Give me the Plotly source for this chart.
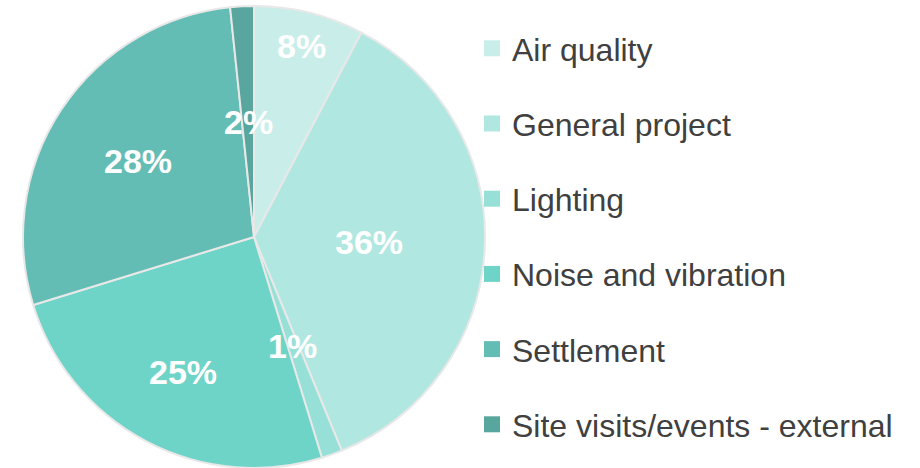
import math
import plotly.graph_objects as go

categories = ["Air quality", "General project", "Lighting", "Noise and vibration",
              "Settlement", "Site visits/events - external"]
values = [7.7, 36.1, 1.45, 25.0, 28.1, 1.65]
colors = ["#C9EEE9", "#B0E8E1", "#96E0D7", "#6FD4C8", "#64BDB4", "#58A69E"]
label_r = [0.85, 0.5, 0.5, 0.66, 0.6, 0.5]  # radial placement of value labels (style)

W, H = 920, 468
M_T, M_B, M_L, M_R = 6, 0, 0, 0
DOM_X = [0, 508 / W]
plot_w, plot_h = W - M_L - M_R, H - M_T - M_B
radius = min((DOM_X[1] - DOM_X[0]) * plot_w, plot_h) / 2
cx, cy = (DOM_X[0] + DOM_X[1]) / 2, 0.5

fig = go.Figure()
fig.add_trace(go.Pie(
    labels=categories, values=values, sort=False, direction="clockwise", rotation=0,
    marker=dict(colors=colors, line=dict(color="#E8E8E8", width=2)),
    textinfo="none", showlegend=False, hoverinfo="label+percent",
    domain=dict(x=DOM_X, y=[0, 1]),
))

total = sum(values)
cum = 0
for v, rf in zip(values, label_r):
    mid = (cum + v / 2) / total * 2 * math.pi
    cum += v
    pct = v / total * 100
    fig.add_annotation(
        x=cx + radius * rf * math.sin(mid) / plot_w,
        y=cy + radius * rf * math.cos(mid) / plot_h,
        xref="paper", yref="paper", showarrow=False,
        xanchor="center", yanchor="middle",
        text="<b>%d%%</b>" % int(pct + 0.5),
        font=dict(family="Liberation Sans, Arial", size=34, color="white"),
    )

for cat, col in zip(categories, colors):
    fig.add_trace(go.Scatter(
        x=[None], y=[None], mode="markers", name=cat, legendgroup=cat,
        marker=dict(symbol="square", size=16, color=col),
    ))

fig.update_layout(
    width=W, height=H, margin=dict(t=M_T, b=M_B, l=M_L, r=M_R, autoexpand=False),
    paper_bgcolor="white", plot_bgcolor="white",
    xaxis=dict(visible=False), yaxis=dict(visible=False),
    legend=dict(x=472 / W, xanchor="left", y=1 - 15 / plot_h, yanchor="top",
                font=dict(family="Liberation Sans, Arial", size=32, color="#404040"),
                tracegroupgap=30.6, itemwidth=30, bgcolor="rgba(0,0,0,0)"),
)
fig.write_html("out.html", config={"displayModeBar": False},
               post_script="document.body.style.margin='0';")
